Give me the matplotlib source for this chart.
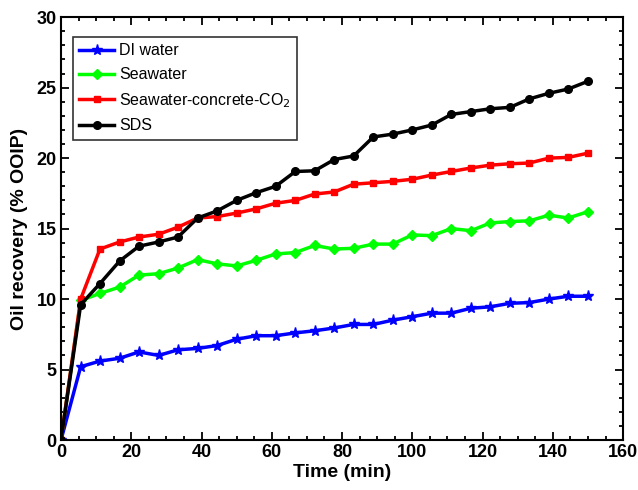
import matplotlib
matplotlib.use("Agg")
from matplotlib import pyplot as plt
from matplotlib.ticker import MultipleLocator

# time points (min)
time = [0, 5.6, 11.1, 16.7, 22.2, 27.8, 33.3, 38.9, 44.4, 50, 55.6, 61.1, 66.7, 72.2,
        77.8, 83.3, 88.9, 94.4, 100, 105.6, 111.1, 116.7, 122.2, 127.8, 133.3, 138.9, 144.4, 150]

di_water = [0, 5.2, 5.6, 5.8, 6.25, 6.0, 6.4, 6.5, 6.7, 7.15, 7.4, 7.4, 7.6, 7.75,
            7.95, 8.2, 8.2, 8.5, 8.75, 9.0, 9.0, 9.35, 9.45, 9.7, 9.75, 10.0, 10.2, 10.2]
seawater = [0, 9.9, 10.4, 10.85, 11.7, 11.8, 12.2, 12.8, 12.5, 12.35, 12.75, 13.2, 13.3, 13.8,
            13.55, 13.6, 13.9, 13.9, 14.55, 14.5, 15.0, 14.85, 15.4, 15.5, 15.55, 15.95, 15.75, 16.2]
sw_co2 = [0, 10.0, 13.55, 14.05, 14.4, 14.6, 15.1, 15.75, 15.85, 16.1, 16.4, 16.8, 17.0, 17.45,
          17.6, 18.15, 18.25, 18.35, 18.5, 18.8, 19.05, 19.3, 19.5, 19.6, 19.65, 20.0, 20.05, 20.35]
sds = [0, 9.6, 11.1, 12.7, 13.75, 14.05, 14.4, 15.75, 16.25, 17.0, 17.55, 18.0, 19.05, 19.1,
       19.9, 20.15, 21.5, 21.7, 22.0, 22.35, 23.1, 23.3, 23.5, 23.6, 24.2, 24.6, 24.9, 25.45]

plt.rcParams['font.family'] = ['Liberation Sans', 'DejaVu Sans']

fig = plt.figure(figsize=(6.38, 4.9), dpi=100)
ax = fig.add_axes([0.0956, 0.102, 0.881, 0.863])

ax.plot(time, di_water, color="#0000ff", marker="*", ms=8, lw=2.5, label="DI water")
ax.plot(time, seawater, color="#00ff00", marker="D", ms=5.5, lw=2.5, label="Seawater")
ax.plot(time, sw_co2, color="#ff0000", marker="s", ms=5, lw=2.5, label="Seawater-concrete-CO$_2$")
ax.plot(time, sds, color="black", marker="o", ms=5.5, lw=2.5, label="SDS")

ax.set_xlim(0, 160)
ax.set_ylim(0, 30)
ax.xaxis.set_major_locator(MultipleLocator(20))
ax.xaxis.set_minor_locator(MultipleLocator(5))
ax.yaxis.set_major_locator(MultipleLocator(5))
ax.yaxis.set_minor_locator(MultipleLocator(1))
ax.tick_params(which="both", direction="in", top=True, right=True, width=1.3)
ax.tick_params(which="major", length=6, labelsize=13, pad=3)
ax.tick_params(which="minor", length=3)
for lab in ax.get_xticklabels() + ax.get_yticklabels():
    lab.set_fontweight("bold")
for sp in ax.spines.values():
    sp.set_linewidth(1.5)

ax.set_xlabel("Time (min)", fontsize=14, fontweight="bold", labelpad=2)
ax.set_ylabel("Oil recovery (% OOIP)", fontsize=14, fontweight="bold", labelpad=6)

leg = ax.legend(loc="upper left", bbox_to_anchor=(0.021, 0.953), borderaxespad=0,
                fontsize=11.5, frameon=True, fancybox=False,
                edgecolor="black", handlelength=2.2, handletextpad=0.3,
                labelspacing=0.55)
leg.get_frame().set_linewidth(1.2)

fig.savefig("out.png", dpi=100)
